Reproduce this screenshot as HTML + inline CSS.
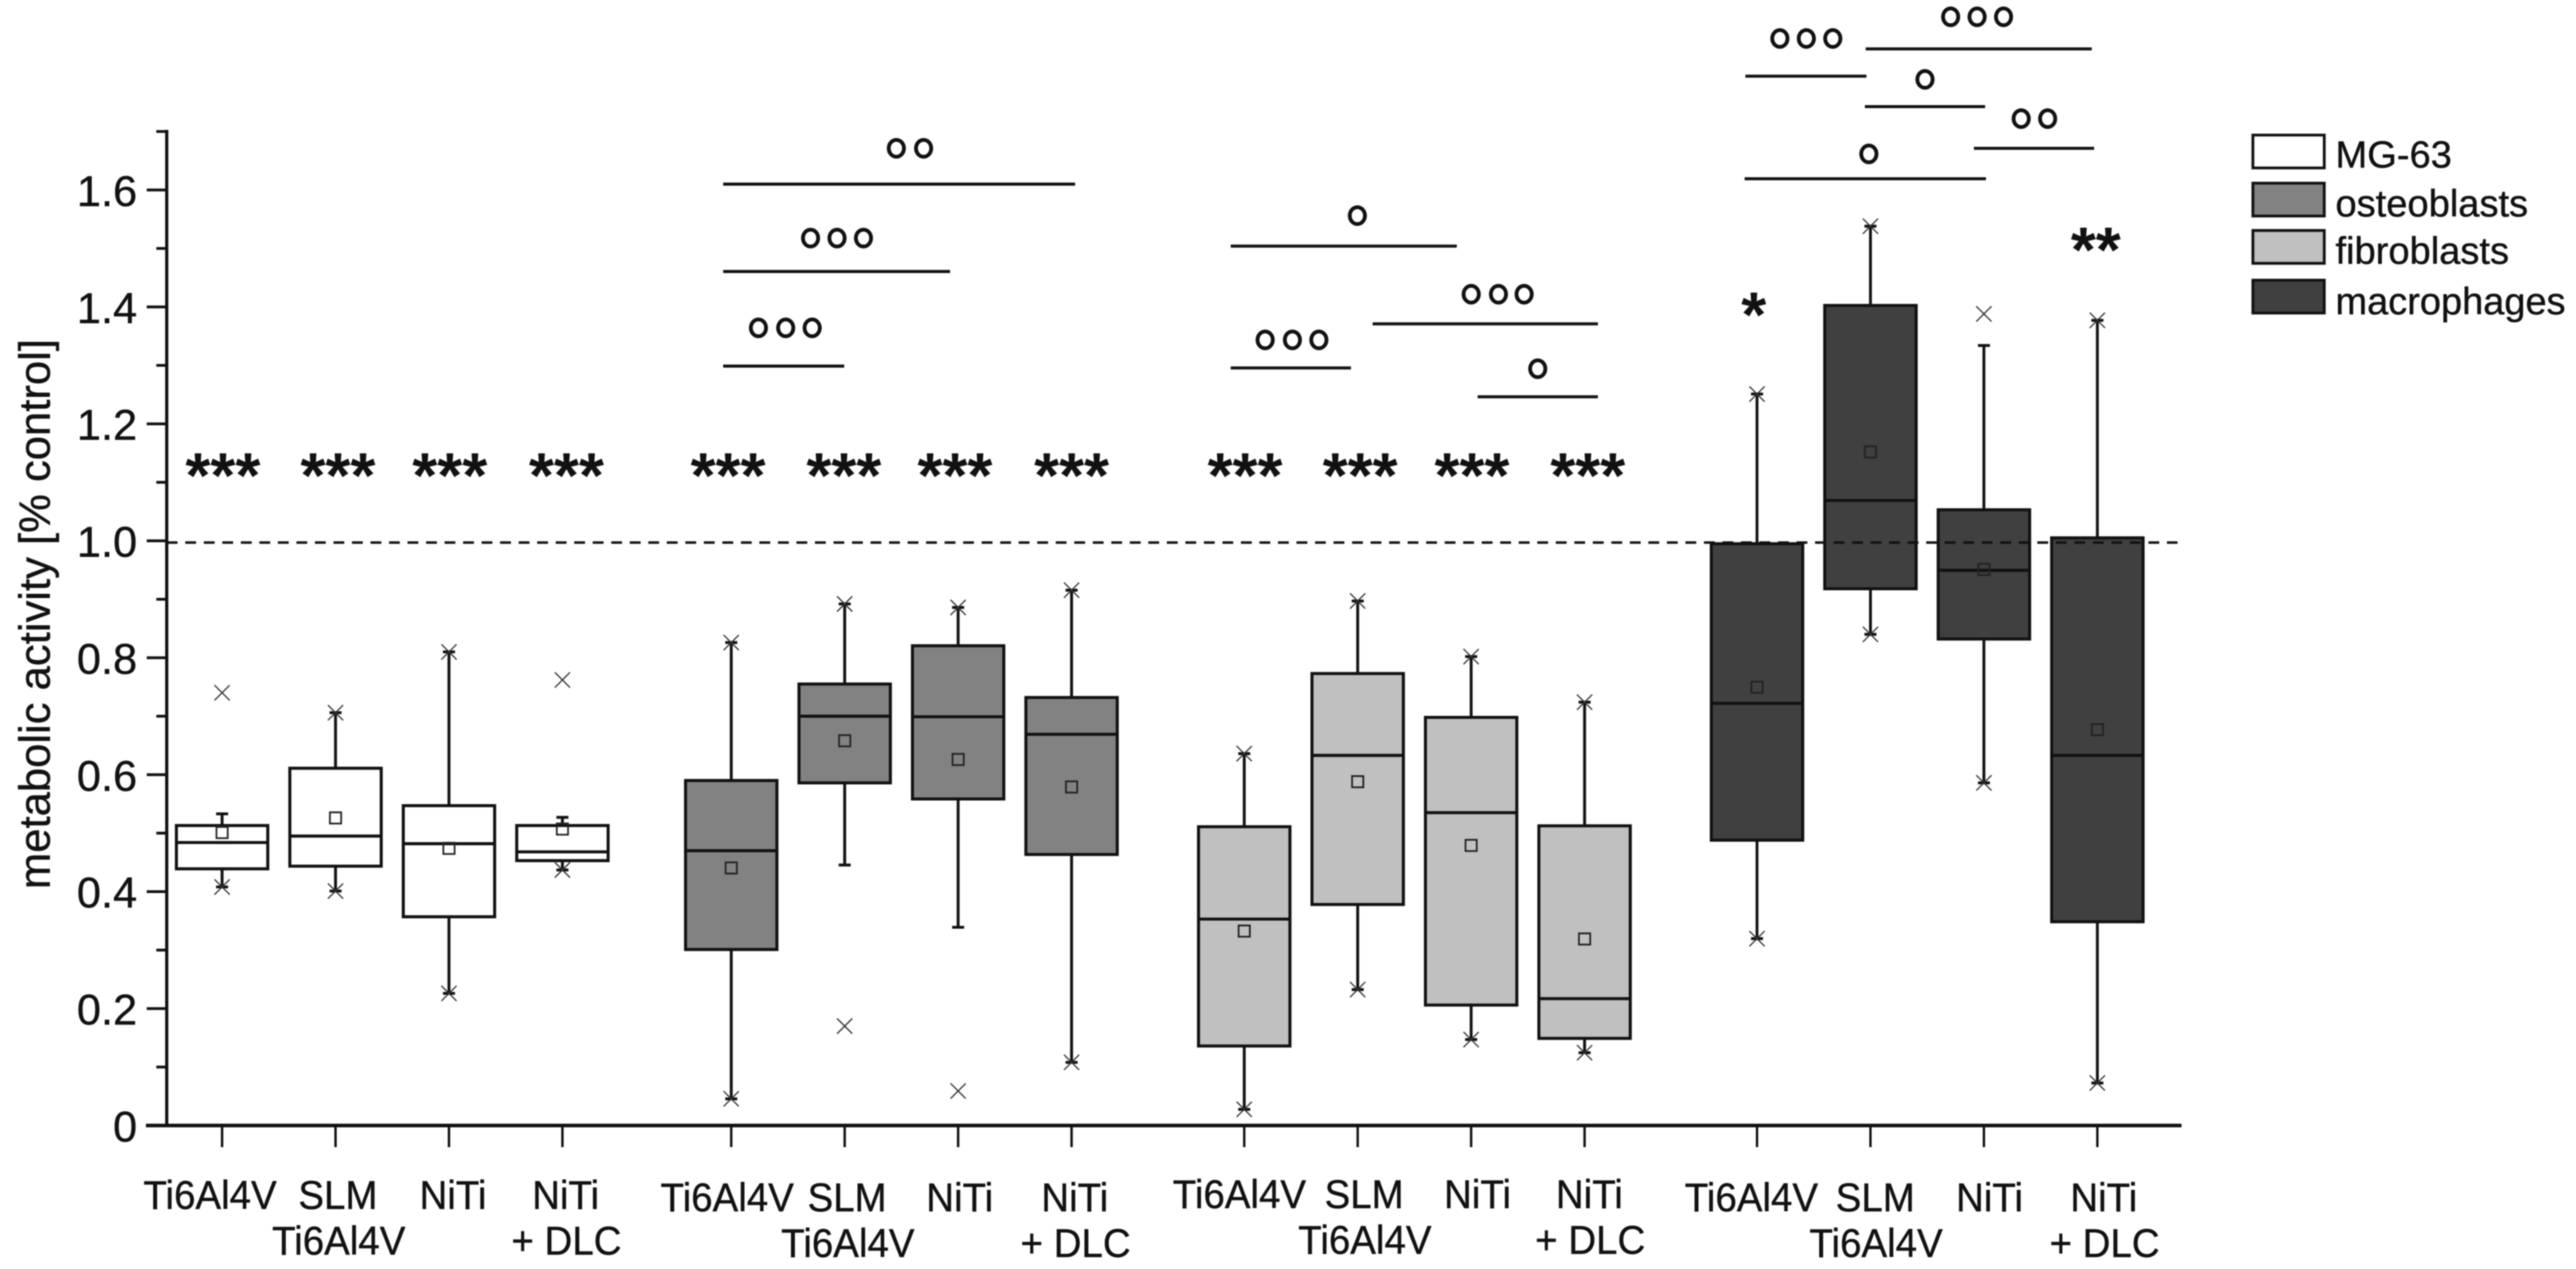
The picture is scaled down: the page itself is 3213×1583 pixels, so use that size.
<!DOCTYPE html>
<html lang="en">
<head>
<meta charset="utf-8">
<title>Metabolic activity box plot</title>
<style>
html,body{margin:0;padding:0;background:#fff;}
#chart{display:block;width:3213px;height:1583px;background:#fff;filter:blur(0.7px);}
text{font-family:"Liberation Sans",sans-serif;fill:#111;stroke:#111;stroke-width:0.5px;}
</style>
</head>
<body>
<svg id="chart" xmlns="http://www.w3.org/2000/svg" width="3213" height="1583" viewBox="0 0 3213 1583">
  <text x="62" y="766" transform="rotate(-90 62 766)" text-anchor="middle" font-size="54.4">metabolic activity [% control]</text>
  <g id="plot"></g>
  <g>
    <g>
      <rect x="2810" y="168.500" width="89" height="41" fill="#ffffff" stroke="#111" stroke-width="3.500"/>
      <text x="2913" y="209" font-size="47.500">MG-63</text>
    </g>
    <g>
      <rect x="2810" y="228.500" width="89" height="41" fill="#828282" stroke="#111" stroke-width="3.500"/>
      <text x="2913" y="270" font-size="47.500">osteoblasts</text>
    </g>
    <g>
      <rect x="2810" y="287.500" width="89" height="41" fill="#c0c0c0" stroke="#111" stroke-width="3.500"/>
      <text x="2913" y="329" font-size="47.500">fibroblasts</text>
    </g>
    <g>
      <rect x="2810" y="349.500" width="89" height="41" fill="#404040" stroke="#111" stroke-width="3.500"/>
      <text x="2913" y="392" font-size="47" textLength="287" lengthAdjust="spacingAndGlyphs">macrophages</text>
    </g>
  </g>
</svg>
<script>
// ---- data ----
const groupNames = ['MG-63', 'osteoblasts', 'fibroblasts', 'macrophages'];
const groupFills = ['#ffffff', '#828282', '#c0c0c0', '#404040'];
const materialLine1 = ['Ti6Al4V', 'SLM', 'NiTi', 'NiTi'];
const materialLine2 = ['', 'Ti6Al4V', '', '+ DLC'];
const q3Values = [0.513, 0.611, 0.547, 0.513, 0.590, 0.755, 0.8205, 0.732, 0.511, 0.773, 0.698, 0.5125, 0.995, 1.4025, 1.053, 1.005];
const q1Values = [0.439, 0.4435, 0.357, 0.453, 0.301, 0.586, 0.5585, 0.4635, 0.136, 0.378, 0.206, 0.149, 0.488, 0.918, 0.832, 0.3485];
const medianValues = [0.484, 0.495, 0.482, 0.468, 0.470, 0.700, 0.699, 0.669, 0.353, 0.633, 0.535, 0.217, 0.722, 1.069, 0.9495, 0.633];
const meanValues = [0.501, 0.526, 0.474, 0.507, 0.4405, 0.658, 0.626, 0.579, 0.3325, 0.588, 0.479, 0.319, 0.7495, 1.152, 0.951, 0.677];
const whiskerHigh = [0.533, 0.706, 0.810, 0.527, 0.826, 0.892, 0.886, 0.9155, 0.636, 0.897, 0.802, 0.724, 1.251, 1.538, 1.334, 1.377];
const whiskerLow = [0.408, 0.401, 0.226, 0.437, 0.0456, 0.4455, 0.339, 0.108, 0.0276, 0.2325, 0.147, 0.1245, 0.3196, 0.840, 0.586, 0.0727];
const maxMarks = [0.740, 0.706, 0.810, 0.762, 0.826, 0.892, 0.886, 0.9155, 0.636, 0.897, 0.802, 0.724, 1.251, 1.538, 1.388, 1.377];
const minMarks = [0.408, 0.401, 0.226, 0.437, 0.0456, 0.170, 0.059, 0.108, 0.0276, 0.2325, 0.147, 0.1245, 0.3196, 0.840, 0.586, 0.0727];
const significance = ['***', '***', '***', '***', '***', '***', '***', '***', '***', '***', '***', '***', '*', '', '', '**'];
const significanceLevels = [1.074, 1.074, 1.074, 1.074, 1.074, 1.074, 1.074, 1.074, 1.074, 1.074, 1.074, 1.074, 1.349, 1.074, 1.074, 1.46];
const majorTicks = [0, 0.2, 0.4, 0.6, 0.8, 1.0, 1.2, 1.4, 1.6];
const majorTickLabels = ['0', '0.2', '0.4', '0.6', '0.8', '1.0', '1.2', '1.4', '1.6'];
const minorTicks = [0.1, 0.3, 0.5, 0.7, 0.9, 1.1, 1.3, 1.5, 1.7];
const referenceLevel = [0.997];
const groupPositions = [0, 4.488, 9.01, 13.53];

// ---- layout (not data) ----
const labelNudgeX = [-15, 3, 5, 4, -5, 3, 2, 4, -6, 8, 8, 6, -7, 6, 7, 8];
const labelNudgeY = [0, 3, -1, 3];
const starNudgeX = [1, 3, 1, 5, -4, -1, -4, 0, 1, 3, 1, 4, -4, 0, 0, -2];
const brackets = [
  [902, 1341, 229.7, 185, [1118, 1152]],
  [902, 1185, 338.7, 297, [1011, 1044, 1077]],
  [902, 1053, 456.7, 409, [946, 980, 1013]],
  [1535, 1817, 307, 269, [1693]],
  [1712, 1993, 404, 367, [1835, 1869, 1901]],
  [1535, 1685, 459, 424, [1578, 1612, 1645]],
  [1843, 1993, 495, 460, [1918]],
  [2327, 2609, 61, 21, [2433, 2466, 2499]],
  [2177, 2328, 95, 48, [2220, 2253, 2286]],
  [2326, 2476, 133, 99, [2401]],
  [2462, 2612, 185, 148, [2521, 2554]],
  [2176, 2477, 223, 192, [2331]]
];

// ---- axis functions ----
const xOrigin = 277, xStep = 141.5, yOrigin = 1404, yScale = 729.4;
function xPos(position) { return xOrigin + position * xStep; }
function yPos(value) { return yOrigin - value * yScale; }

const NS = 'http://www.w3.org/2000/svg';
const plot = document.getElementById('plot');
function mk(tag, attrs, parent) {
  const el = document.createElementNS(NS, tag);
  for (const k in attrs) el.setAttribute(k, attrs[k]);
  (parent || plot).appendChild(el);
  return el;
}
const INK = '#111';
let el;

// boxes
q3Values.forEach(function (q3, i) {
  const g = Math.floor(i / 4), m = i % 4;
  const cx = xPos(groupPositions[g] + m);
  const halfW = 57, capW = 7.5, mark = 9.5;
  const grp = mk('g', {});
  
  

  el = mk('line', {x1: cx, x2: cx, y1: yPos(q3), y2: yPos(whiskerHigh[i]), stroke: INK, 'stroke-width': 3.6}, grp);
  
  
  el = mk('line', {x1: cx, x2: cx, y1: yPos(q1Values[i]), y2: yPos(whiskerLow[i]), stroke: INK, 'stroke-width': 3.6}, grp);
  
  
  el = mk('line', {x1: cx - capW, x2: cx + capW, y1: yPos(whiskerHigh[i]), y2: yPos(whiskerHigh[i]), stroke: INK, 'stroke-width': 3.6}, grp);
  
  
  el = mk('line', {x1: cx - capW, x2: cx + capW, y1: yPos(whiskerLow[i]), y2: yPos(whiskerLow[i]), stroke: INK, 'stroke-width': 3.6}, grp);
  
  

  el = mk('rect', {x: cx - halfW, y: yPos(q3), width: halfW * 2, height: yPos(q1Values[i]) - yPos(q3), fill: groupFills[g], stroke: INK, 'stroke-width': 3.8}, grp);
  
  
  el = mk('line', {x1: cx - halfW, x2: cx + halfW, y1: yPos(medianValues[i]), y2: yPos(medianValues[i]), stroke: INK, 'stroke-width': 3.8}, grp);
  
  
  el = mk('rect', {x: cx - 7, y: yPos(meanValues[i]) - 7, width: 14, height: 14, fill: 'none', stroke: '#222', 'stroke-width': 2.2}, grp);
  
  

  [maxMarks[i], minMarks[i]].forEach(function (v, k) {
    const y = yPos(v);
    el = mk('path', {d: 'M' + (cx - mark) + ' ' + (y - mark) + 'L' + (cx + mark) + ' ' + (y + mark) + 'M' + (cx - mark) + ' ' + (y + mark) + 'L' + (cx + mark) + ' ' + (y - mark), fill: 'none', stroke: '#333', 'stroke-width': 1.6}, grp);
    
    
  });
});

// reference line
el = mk('line', {x1: 208, x2: 2716, y1: yPos(referenceLevel[0]), y2: yPos(referenceLevel[0]), stroke: INK, 'stroke-width': 3.2, 'stroke-dasharray': '13.500 9.600'});



// y axis
el = mk('line', {x1: 208, x2: 208, y1: yPos(1.7) - 2, y2: yPos(0), stroke: INK, 'stroke-width': 4});


majorTicks.forEach(function (v, i) {
  el = mk('line', {x1: 183, x2: 208, y1: yPos(v), y2: yPos(v), stroke: INK, 'stroke-width': 3.5});
  
  
  el = mk('text', {x: 171, y: yPos(v) + 20, 'text-anchor': 'end', 'font-size': 54});
  
  
  el.textContent = majorTickLabels[i];
});
minorTicks.forEach(function (v) {
  el = mk('line', {x1: 195, x2: 208, y1: yPos(v), y2: yPos(v), stroke: INK, 'stroke-width': 3.5});
  
  
});

// x axis
el = mk('line', {x1: 182, x2: 2721, y1: yPos(0), y2: yPos(0), stroke: INK, 'stroke-width': 4.5});


groupPositions.forEach(function (gp, g) {
  materialLine1.forEach(function (name, m) {
    const i = g * 4 + m;
    const cx = xPos(gp + m);
    el = mk('line', {x1: cx, x2: cx, y1: yPos(0), y2: yPos(0) + 27, stroke: INK, 'stroke-width': 3});
    
    
    const lx = cx + labelNudgeX[i];
    const ly = 1508 + labelNudgeY[g];
    el = mk('text', {'text-anchor': 'middle', 'font-size': 50, transform: 'translate(' + lx + ' ' + ly + ') scale(0.96 1)'});
    
    
    el.textContent = name;
    if (materialLine2[m]) {
      el = mk('text', {'text-anchor': 'middle', 'font-size': 50, transform: 'translate(' + (lx + 1) + ' ' + (ly + 57) + ') scale(0.96 1)'});
      
      
      el.textContent = materialLine2[m];
    }
    if (significance[i]) {
      el = mk('text', {x: cx + starNudgeX[i], y: yPos(significanceLevels[i]), 'text-anchor': 'middle', 'font-size': 80, 'font-weight': 'bold', style: 'stroke-width:0'});
      
      
      el.textContent = significance[i];
    }
  });
});

// comparison brackets
brackets.forEach(function (b) {
  el = mk('line', {x1: b[0], x2: b[1], y1: b[2], y2: b[2], stroke: INK, 'stroke-width': 3.8});
  
  
  b[4].forEach(function (cx) {
    el = mk('ellipse', {cx: cx, cy: b[3], rx: 9.5, ry: 10.5, fill: 'none', stroke: INK, 'stroke-width': 4.8});
    
    
  });
});
</script>
</body>
</html>
